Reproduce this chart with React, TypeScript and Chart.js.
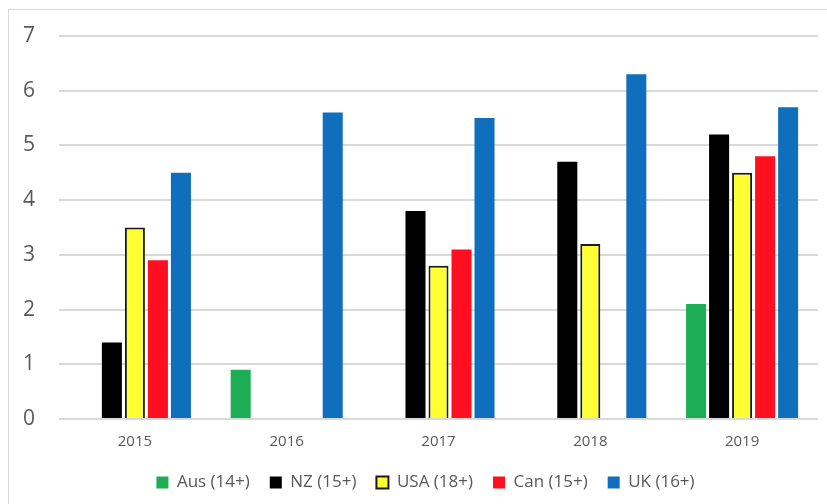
import React, { useEffect, useRef } from "react";
import { Chart, registerables } from "chart.js";

Chart.register(...registerables);

// Categories and series values
const years = ["2015", "2016", "2017", "2018", "2019"];
const ausValues = [null, 0.9, null, null, 2.1];
const nzValues = [1.4, null, 3.8, 4.7, 5.2];
const usaValues = [3.5, null, 2.8, 3.2, 4.5];
const canValues = [2.9, null, 3.1, null, 4.8];
const ukValues = [4.5, 5.6, 5.5, 6.3, 5.7];

const seriesLabels = ["Aus (14+)", "NZ (15+)", "USA (18+)", "Can (15+)", "UK (16+)"];
const yTicks = [0, 1, 2, 3, 4, 5, 6, 7];

const FONT = "'Open Sans', 'Noto Sans', sans-serif";
const TEXT = "#595959";

// Nudges the centred legend row a little to the right
const legendShift = {
  id: "legendShift",
  afterLayout(chart: any) {
    if (chart.legend) {
      chart.legend.left += 12;
      chart.legend.right += 12;
    }
  },
};

export default function App() {
  const canvasRef = useRef<HTMLCanvasElement | null>(null);

  useEffect(() => {
    const canvas = canvasRef.current;
    if (!canvas) return;

    const common = { categoryPercentage: 0.758, barPercentage: 0.87, borderWidth: 0 };

    const chart = new Chart(canvas, {
      type: "bar",
      data: {
        labels: years,
        datasets: [
          { ...common, label: seriesLabels[0], data: ausValues, backgroundColor: "#1DAE55" },
          { ...common, label: seriesLabels[1], data: nzValues, backgroundColor: "#000000" },
          {
            ...common,
            label: seriesLabels[2],
            data: usaValues,
            backgroundColor: "#FFFF33",
            borderColor: "#1a1a1a",
            borderWidth: 2,
          },
          { ...common, label: seriesLabels[3], data: canValues, backgroundColor: "#FF0F1F" },
          { ...common, label: seriesLabels[4], data: ukValues, backgroundColor: "#0F6FBD" },
        ],
      },
      plugins: [legendShift],
      options: {
        responsive: false,
        animation: false,
        layout: { padding: { top: 26, right: 9, left: 0, bottom: 9 } },
        plugins: {
          tooltip: { enabled: false },
          legend: {
            position: "bottom",
            labels: {
              boxWidth: 12,
              boxHeight: 12,
              padding: 20,
              color: TEXT,
              font: { family: FONT, size: 17 },
            },
          },
        },
        scales: {
          x: {
            grid: { display: false, drawTicks: false },
            border: { display: false },
            ticks: { color: TEXT, font: { family: FONT, size: 15 }, padding: 14 },
            afterFit: (scale: any) => {
              scale.height = 35;
            },
          },
          y: {
            min: yTicks[0],
            max: yTicks[yTicks.length - 1],
            afterBuildTicks: (scale: any) => {
              scale.ticks = yTicks.map((v) => ({ value: v }));
            },
            grid: {
              color: "#d9d9d9",
              lineWidth: 2,
              drawTicks: true,
              tickLength: 24,
              tickColor: "rgba(0,0,0,0)",
            },
            border: { display: false },
            ticks: { color: TEXT, font: { family: FONT, size: 21 }, padding: 0 },
            afterFit: (scale: any) => {
              scale.width = 50;
            },
          },
        },
      },
    });

    return () => chart.destroy();
  }, []);

  return (
    <div
      style={{
        position: "fixed",
        left: 8,
        top: 9,
        width: 819,
        height: 495,
        overflow: "hidden",
        borderLeft: "1px solid #d9d9d9",
        borderTop: "1px solid #d9d9d9",
        background: "#fff",
      }}
    >
      <canvas ref={canvasRef} width={818} height={500} style={{ display: "block" }} />
    </div>
  );
}
